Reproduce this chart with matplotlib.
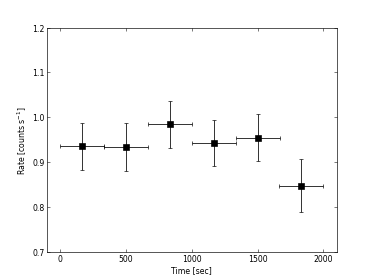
import numpy as np
import matplotlib
matplotlib.use("Agg")
import matplotlib.pyplot as plt

# binned light curve
time = [166.7, 500.0, 833.3, 1166.7, 1500.0, 1833.3]
time_err = [166.7, 166.7, 166.7, 166.7, 166.7, 166.7]
rate = [0.935, 0.934, 0.984, 0.943, 0.955, 0.848]
rate_err = [0.052, 0.053, 0.053, 0.052, 0.053, 0.059]

xticks = [0, 500, 1000, 1500, 2000]
yticks = [0.7, 0.8, 0.9, 1.0, 1.1, 1.2]

plt.rcParams.update({
    "font.size": 12,
    "xtick.direction": "in",
    "ytick.direction": "in",
    "xtick.top": True,
    "ytick.right": True,
    "xtick.major.size": 4,
    "ytick.major.size": 4,
    "axes.linewidth": 1.0,
})

fig, ax = plt.subplots(figsize=(8, 6))
fig.subplots_adjust(left=0.125, right=0.9, bottom=0.1, top=0.9)

ax.errorbar(time, rate, xerr=time_err, yerr=rate_err, fmt="s", color="k",
            ecolor="k", markersize=10, elinewidth=1.2, capsize=3, capthick=1)

ax.set_xlim(-100, 2100)
ax.set_ylim(0.7, 1.2)
ax.set_xticks(xticks)
ax.set_yticks(yticks)
ax.set_xlabel("Time [sec]")
ax.set_ylabel("Rate [counts s$^{-1}$]")

plt.savefig("out.png", dpi=46.75)
